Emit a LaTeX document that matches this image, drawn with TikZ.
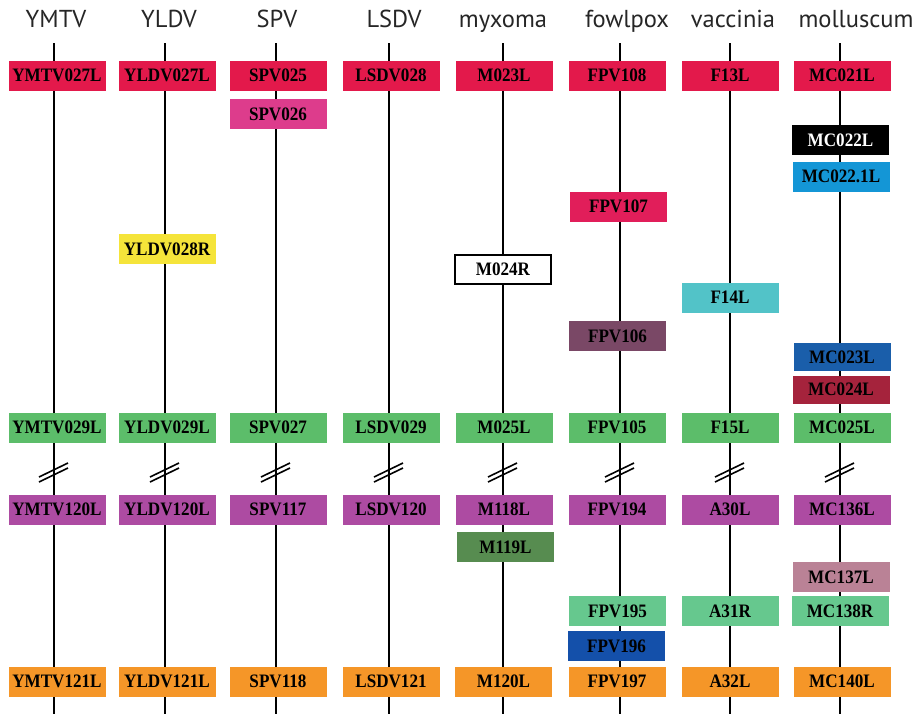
\documentclass[tikz,border=0pt]{standalone}
\usepackage{fontspec}
\setmainfont{Liberation Serif}
\newfontfamily\hdrfont{PT Sans}
\newfontfamily\genefont[FakeStretch=0.9]{Liberation Serif}
\definecolor{cred}{HTML}{E3194B}
\definecolor{cpink}{HTML}{DD3C8C}
\definecolor{ccyan}{HTML}{1496D6}
\definecolor{cpinkred}{HTML}{E11E5A}
\definecolor{cyellow}{HTML}{F5E43A}
\definecolor{cteal}{HTML}{52C3C8}
\definecolor{cmauve}{HTML}{7A4866}
\definecolor{cblue}{HTML}{1A5EAA}
\definecolor{cdarkred}{HTML}{A5233C}
\definecolor{cgreen}{HTML}{5CBD6A}
\definecolor{cpurple}{HTML}{AD4BA2}
\definecolor{cdkgreen}{HTML}{578C50}
\definecolor{crose}{HTML}{BA8296}
\definecolor{cmint}{HTML}{66C88E}
\definecolor{cdblue}{HTML}{1450AA}
\definecolor{corange}{HTML}{F59628}
\begin{document}
\begin{tikzpicture}[x=1pt,y=-1pt,
  gene/.style={rectangle, minimum width=97pt, minimum height=30pt, inner sep=0pt,
    font=\genefont\fontsize{19}{20}\selectfont\bfseries, text=black},
  hdr/.style={anchor=base, font=\hdrfont\fontsize{24.5}{26}\selectfont, text=black!85},
  vline/.style={line width=1.8pt, black},
  slash/.style={line width=1.6pt, black}]
\useasboundingbox[fill=white] (0,0) rectangle (922,713);

% headers
\node[hdr] (hYMTV) at (56,27) {YMTV};
\node[hdr] (hYLDV) at (169,27) {YLDV};
\node[hdr] (hSPV) at (277,27) {SPV};
\node[hdr] (hLSDV) at (394,27) {LSDV};
\node[hdr] (hmyx) at (503,27) {myxoma};
\node[hdr] (hfowl) at (627,27) {fowlpox};
\node[hdr] (hvac) at (733,27) {vaccinia};
\node[hdr] (hmol) at (856,27) {molluscum};

% vertical lines and break marks
\foreach \n/\x in {1/54,2/165,3/276,4/389,5/503,6/620,7/730,8/840}{
  \coordinate (top\n) at (\x,43);
  \coordinate (bot\n) at (\x,714);
  \draw[vline] (top\n) -- (bot\n);
  \draw[slash] (\x-15,477) -- (\x+14,463);
  \draw[slash] (\x-15,482) -- (\x+14,468);
}

% row 1 (red)
\node[gene, fill=cred] (r1a) at (57,75.5) {YMTV027L};
\node[gene, fill=cred] (r1b) at (167,75.5) {YLDV027L};
\node[gene, fill=cred] (r1c) at (278,75.5) {SPV025};
\node[gene, fill=cred] (r1d) at (391,75.5) {LSDV028};
\node[gene, fill=cred] (r1e) at (504,75.5) {M023L};
\node[gene, fill=cred] (r1f) at (617,75.5) {FPV108};
\node[gene, fill=cred] (r1g) at (730,75.5) {F13L};
\node[gene, fill=cred] (r1h) at (842,75.5) {MC021L};

% intermediate genes
\node[gene, fill=cpink] (spv026) at (278,114) {SPV026};
\node[gene, fill=black, text=white] (mc022) at (840.5,140) {MC022L};
\node[gene, fill=ccyan] (mc0221) at (841,176.5) {MC022.1L};
\node[gene, fill=cpinkred] (fpv107) at (618.5,206.5) {FPV107};
\node[gene, fill=cyellow] (yldv028) at (167,249) {YLDV028R};
\node[gene, fill=white, draw=black, line width=1.6pt, minimum width=96pt, minimum height=29pt] (m024) at (503,269.5) {M024R};
\node[gene, fill=cteal] (f14) at (730,297.5) {F14L};
\node[gene, fill=cmauve] (fpv106) at (617.5,336) {FPV106};
\node[gene, fill=cblue, minimum height=28pt] (mc023) at (842,357) {MC023L};
\node[gene, fill=cdarkred, minimum height=28pt] (mc024) at (841,389.5) {MC024L};

% row green
\node[gene, fill=cgreen] (r2a) at (57,427.5) {YMTV029L};
\node[gene, fill=cgreen] (r2b) at (167,427.5) {YLDV029L};
\node[gene, fill=cgreen] (r2c) at (278,427.5) {SPV027};
\node[gene, fill=cgreen] (r2d) at (391,427.5) {LSDV029};
\node[gene, fill=cgreen] (r2e) at (504,427.5) {M025L};
\node[gene, fill=cgreen] (r2f) at (617,427.5) {FPV105};
\node[gene, fill=cgreen] (r2g) at (730,427.5) {F15L};
\node[gene, fill=cgreen] (r2h) at (842,427.5) {MC025L};

% row purple
\node[gene, fill=cpurple] (r3a) at (57,509.5) {YMTV120L};
\node[gene, fill=cpurple] (r3b) at (167,509.5) {YLDV120L};
\node[gene, fill=cpurple] (r3c) at (278,509.5) {SPV117};
\node[gene, fill=cpurple] (r3d) at (391,509.5) {LSDV120};
\node[gene, fill=cpurple] (r3e) at (504,509.5) {M118L};
\node[gene, fill=cpurple] (r3f) at (617,509.5) {FPV194};
\node[gene, fill=cpurple] (r3g) at (730,509.5) {A30L};
\node[gene, fill=cpurple] (r3h) at (842,509.5) {MC136L};

% intermediate lower genes
\node[gene, fill=cdkgreen] (m119) at (505.5,547) {M119L};
\node[gene, fill=crose] (mc137) at (841,577) {MC137L};
\node[gene, fill=cmint] (fpv195) at (617.5,611) {FPV195};
\node[gene, fill=cmint] (a31) at (730,611) {A31R};
\node[gene, fill=cmint] (mc138) at (840,611) {MC138R};
\node[gene, fill=cdblue] (fpv196) at (616.5,646) {FPV196};

% row orange
\node[gene, fill=corange] (r4a) at (57,681.5) {YMTV121L};
\node[gene, fill=corange] (r4b) at (167,681.5) {YLDV121L};
\node[gene, fill=corange] (r4c) at (278,681.5) {SPV118};
\node[gene, fill=corange] (r4d) at (391,681.5) {LSDV121};
\node[gene, fill=corange] (r4e) at (503.5,681.5) {M120L};
\node[gene, fill=corange] (r4f) at (617,681.5) {FPV197};
\node[gene, fill=corange] (r4g) at (730,681.5) {A32L};
\node[gene, fill=corange] (r4h) at (842,681.5) {MC140L};
\end{tikzpicture}
\end{document}
